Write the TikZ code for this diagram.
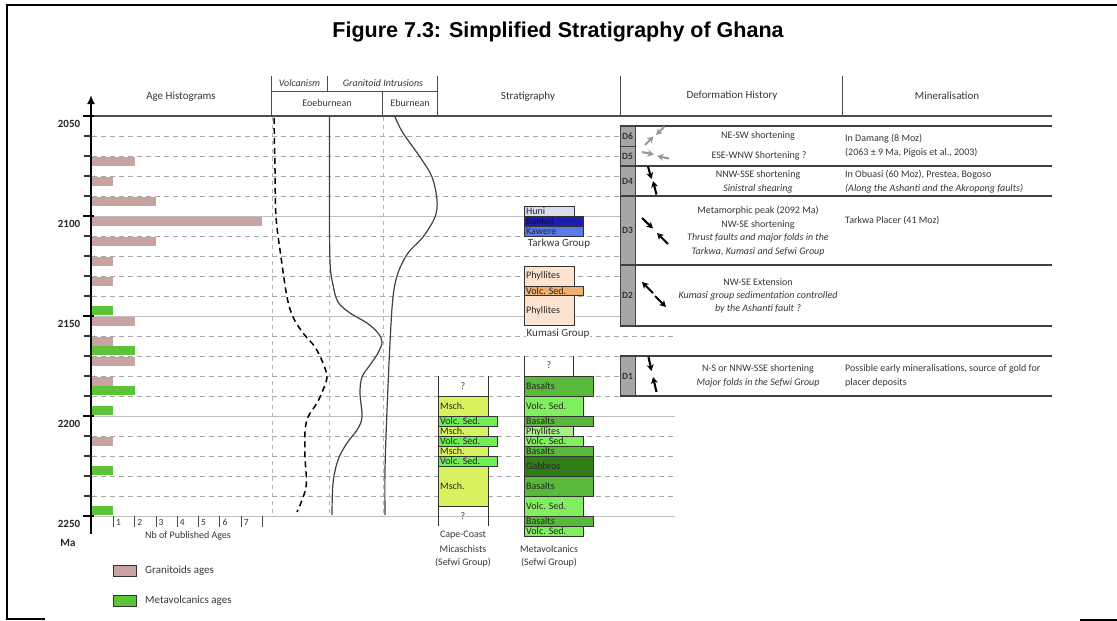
\documentclass[tikz,border=0pt]{standalone}
\usepackage{fontspec}
\setmainfont{Carlito}
\newfontfamily\arialfont{Liberation Sans}
\usetikzlibrary{arrows.meta}
\definecolor{granit}{HTML}{C9A3A1}
\definecolor{metav}{HTML}{5DC43A}
\definecolor{huni}{HTML}{DADCF0}
\definecolor{banket}{HTML}{1C1CB0}
\definecolor{kawere}{HTML}{5B7BE8}
\definecolor{kumasi}{HTML}{FCE3D0}
\definecolor{kvolc}{HTML}{EFAE72}
\definecolor{msch}{HTML}{D7F25E}
\definecolor{ccvolc}{HTML}{6EEE52}
\definecolor{basalt}{HTML}{58B93A}
\definecolor{mvvolc}{HTML}{80EE5E}
\definecolor{phyl}{HTML}{A8EE8A}
\definecolor{gabbro}{HTML}{2E7D18}
\definecolor{dcol}{HTML}{A6A6A6}
\definecolor{txtc}{HTML}{363636}
\begin{document}
\begin{tikzpicture}[x=1pt,y=-1pt,
  every node/.style={inner sep=0pt, text=txtc},
  txt/.style={font=\fontsize{10}{12}\selectfont},
  itx/.style={font=\fontsize{10}{12}\selectfont\itshape},
  hdr/.style={font=\fontsize{11}{13}\selectfont},
  grp/.style={font=\fontsize{11}{13}\selectfont, fill=white, inner sep=1pt},
  ylab/.style={font=\fontsize{11}{13}\selectfont\bfseries, text=black!85},
  dlab/.style={font=\fontsize{9.5}{11}\selectfont\bfseries, text=black!80},
  blab/.style={font=\fontsize{10}{12}\selectfont, text=black!85, anchor=west},
  mtx/.style={font=\fontsize{10}{12}\selectfont, anchor=west},
  mitx/.style={font=\fontsize{10}{12}\selectfont\itshape, anchor=west},
  hline/.style={draw=black!70, line width=1pt},
  gridd/.style={draw=black!35, dash pattern=on 5pt off 4pt, line width=0.8pt},
  grids/.style={draw=black!25, line width=0.9pt},
  vgrid/.style={draw=black!30, dash pattern=on 4pt off 4pt, line width=0.7pt},
  layer/.style={draw=black!80, line width=0.8pt},
  dline/.style={draw=black!75, line width=1.5pt},
  stress/.style={line width=2.1pt, -{Stealth[length=6.5pt,width=7pt]}},
  gstress/.style={stress, draw=black!40}]
\useasboundingbox (0,0) rectangle (1117,621);
% frame
\draw[line width=1.3pt] (1117,5) -- (7,5) -- (7,619) -- (45,619);
\draw[line width=1.3pt] (1080,620) -- (1117,620);
% title
\node[font=\arialfont\fontsize{21.5}{24}\selectfont\bfseries, text=black] (title) at (558,32) {Figure 7.3: Simplified Stratigraphy of Ghana};
% headers
\node[hdr] (hAge) at (181,97) {Age Histograms};
\node[itx] (hVolc) at (299.5,83) {Volcanism};
\node[itx] (hGran) at (383,83) {Granitoid Intrusions};
\node[txt] (hEoe) at (327,103) {Eoeburnean};
\node[txt] (hEbu) at (410,103) {Eburnean};
\node[hdr] (hStrat) at (528,97) {Stratigraphy};
\node[hdr] (hDef) at (732,96) {Deformation History};
\node[hdr] (hMin) at (947,96) {Mineralisation};
\draw[hline] (271.5,76) -- (271.5,116);
\draw[hline] (271.5,91) -- (437.5,91);
\draw[hline] (327.5,76) -- (327.5,91);
\draw[hline] (382.5,91) -- (382.5,116);
\draw[hline] (437.5,76) -- (437.5,116);
\draw[hline] (620,76) -- (620,116);
\draw[hline] (842,76) -- (842,116);
% histogram bars
\foreach \yy/\n in {156/2,176/1,196/3,216/8,236/3,256/1,276/1,316/2,336/1,356/2,376/1,436/1}
  \fill[granit] (92,\yy+0.8) rectangle ({92+21.3*\n},\yy+10);
\foreach \yy/\n in {316/1,356/2,396/2,416/1,476/1,516/1}
  \fill[metav] (92,\yy-10) rectangle ({92+21.3*\n},\yy-0.8);
% grid lines
\foreach \yy/\xe in {136/620,156/620,176/620,196/620,236/620,256/620,276/620,296/620,336/675,356/620,376/620,396/620,436/675,456/675,476/675,496/675}
  \draw[gridd] (92,\yy) -- (\xe,\yy);
\foreach \yy/\xe in {216/620,316/620,416/675,516/675}
  \draw[grids] (92,\yy) -- (\xe,\yy);
\foreach \xx in {272,329,383}
  \draw[vgrid] (\xx,117) -- (\xx,516);
\draw[draw=black!70, line width=1.8pt] (91,116) -- (1052,116);
% axis
\draw[line width=2pt, -{Latex[length=9pt,width=8pt]}] (91,534) -- (91,95);
\foreach \yy in {136,156,176,196,236,256,276,296,336,356,376,396,436,456,476,496}
  \draw[black!80, line width=1.2pt] (84,\yy) -- (91,\yy);
\foreach \yy/\lab in {116/2050,216/2100,316/2150,416/2200,516/2250}{
  \draw[black, line width=2pt] (83,\yy) -- (94,\yy);
  \node[ylab] (yl\lab) at (69,\yy+8) {\lab};
}
\node[ylab] (ma) at (68,543) {Ma};
\foreach \k in {1,...,8}
  \draw[black!70, line width=0.8pt] ({92+21.3*\k},516) -- ({92+21.3*\k},527);
\foreach \k in {1,...,7}
  \node[font=\fontsize{9.5}{11}\selectfont, anchor=west] (xl\k) at ({92+21.3*\k+2.5},522) {\k};
\node[txt] (nbpub) at (188,536) {Nb of Published Ages};
% legend
\draw[draw=black!80, line width=0.8pt, fill=granit] (113,565) rectangle (136,576);
\node[hdr, anchor=west] (legG) at (145,570.5) {Granitoids ages};
\draw[draw=black!80, line width=0.8pt, fill=metav] (113,595) rectangle (136,606);
\node[hdr, anchor=west] (legM) at (145,600.5) {Metavolcanics ages};
% curves
\draw[black, line width=1.5pt, dash pattern=on 6pt off 4pt] plot[smooth, tension=0.55] coordinates {(274,118) (275,170) (276,217) (281,257) (287,297) (293,317) (303,333) (315,347) (323,363) (327,377) (323,390) (317,403) (308,417) (305,432) (305,457) (306,487) (297,512)};
\draw[black!75, line width=1.2pt] plot[smooth, tension=0.55] coordinates {(329.5,117) (329.5,200) (330,262) (333,285) (338,302) (350,313) (367,323) (378,333) (382,342) (378,353) (370,365) (362,377) (360,393) (362,417) (357,430) (347,443) (338,460) (333,483) (332,515)};
\draw[black!75, line width=1.2pt] plot[smooth, tension=0.55] coordinates {(395,117) (403,133) (420,157) (432,177) (437,200) (435,217) (423,237) (408,253) (398,273) (393,297) (390,343) (387,410) (385,470) (385,515)};
% Tarkwa group
\draw[layer, fill=huni] (524,206) rectangle (574,216);
\draw[layer, fill=banket] (524,216) rectangle (583,226);
\draw[layer, fill=kawere] (524,226) rectangle (583,236);
\node[blab] (huni) at (526,211.5) {Huni};
\node[blab, text=banket!50!black] (banket) at (526,221.5) {Banket};
\node[blab] (kawere) at (526,231.5) {Kawere};
\node[grp] (tarkwa) at (559,244) {Tarkwa Group};
% Kumasi group
\draw[layer, fill=kumasi] (524,266) rectangle (574,325);
\draw[layer, fill=kvolc] (524,286) rectangle (583,295.5);
\node[blab] (kph1) at (526,276) {Phyllites};
\node[blab] (kvs) at (526,291) {Volc. Sed.};
\node[blab] (kph2) at (526,311) {Phyllites};
\node[grp] (kumasi) at (558,334) {Kumasi Group};
% Metavolcanics column
\draw[layer] (524,356) -- (524,376);
\draw[layer] (573,356) -- (573,376);
\node[txt] (mvq) at (549,365) {?};
\foreach \ya/\yb/\xe/\col/\lab/\nm in {376/396/593/basalt/Basalts/m1, 396/416/583/mvvolc/Volc. Sed./m2, 416/426/593/basalt/Basalts/m3, 426/436/573/phyl/Phyllites/m4, 436/446/583/mvvolc/Volc. Sed./m5, 446/456/593/basalt/Basalts/m6, 456/476/593/gabbro/Gabbros/m7, 476/496/593/basalt/Basalts/m8, 496/516/583/mvvolc/Volc. Sed./m9, 516/526/593/basalt/Basalts/m10, 526/536/583/mvvolc/Volc. Sed./m11}{
  \draw[layer, fill=\col] (524,\ya) rectangle (\xe,\yb);
  \node[blab] (\nm) at (526,{(\ya+\yb)/2+0.5}) {\lab};
}
\node[txt] (mvl1) at (549,549) {Metavolcanics};
\node[txt] (mvl2) at (549,563) {(Sefwi Group)};
% Cape-Coast column
\draw[layer] (438,376) -- (438,396);
\draw[layer] (488,376) -- (488,396);
\node[txt] (ccq1) at (463,386) {?};
\foreach \ya/\yb/\xe/\col/\lab/\nm in {396/416/488/msch/Msch./c1, 416/426/497/ccvolc/Volc. Sed./c2, 426/436/488/msch/Msch./c3, 436/446/497/ccvolc/Volc. Sed./c4, 446/456/488/msch/Msch./c5, 456/466/497/ccvolc/Volc. Sed./c6, 466/506/488/msch/Msch./c7}{
  \draw[layer, fill=\col] (438,\ya) rectangle (\xe,\yb);
  \node[blab] (\nm) at (440,{(\ya+\yb)/2+0.5}) {\lab};
}
\draw[layer] (438,506) -- (438,526);
\draw[layer] (488,506) -- (488,526);
\node[txt] (ccq2) at (463,516) {?};
\node[txt] (ccl1) at (463,535) {Cape-Coast};
\node[txt] (ccl2) at (463,549) {Micaschists};
\node[txt] (ccl3) at (463,563) {(Sefwi Group)};
% Deformation boxes
\foreach \ya/\yb/\lab in {126/146/D6,146/166/D5,166/196/D4,196/265/D3,265/326/D2,356/396/D1}{
  \draw[draw=black!75, line width=1pt, fill=dcol] (620,\ya) rectangle (635,\yb);
  \node[dlab] (lab\lab) at (627.5,{(\ya+\yb)/2}) {\lab};
}
\foreach \yy in {126,166,196,265,326,356,396}
  \draw[dline] (620,\yy) -- (1052,\yy);
% stress arrows
\draw[gstress] (645,145) -- (653.5,136.5);
\draw[gstress] (664.5,126.5) -- (656,135);
\draw[gstress] (642,152) -- (654,154.5);
\draw[gstress] (669,158.5) -- (657,156);
\draw[stress] (648,166.5) -- (651.5,179);
\draw[stress] (656.5,194.5) -- (653,181);
\draw[stress] (642,218) -- (653,228.5);
\draw[stress] (668,244) -- (657,233);
\draw[stress] (653,293) -- (642,282);
\draw[stress] (655,296) -- (666,307);
\draw[stress] (648.5,357) -- (651.5,371);
\draw[stress] (656.5,392) -- (653,377);
% deformation texts
\node[txt] (d6a) at (758,136) {NE-SW shortening};
\node[txt] (d5a) at (759,156) {ESE-WNW Shortening ?};
\node[txt] (d4a) at (758,174.5) {NNW-SSE shortening};
\node[itx] (d4b) at (758,188.5) {Sinistral shearing};
\node[txt] (d3a) at (758,211) {Metamorphic peak (2092 Ma)};
\node[txt] (d3b) at (758,224.5) {NW-SE shortening};
\node[itx] (d3c) at (758,238) {Thrust faults and major folds in the};
\node[itx] (d3d) at (758,251.5) {Tarkwa, Kumasi and Sefwi Group};
\node[txt] (d2a) at (758,282) {NW-SE Extension};
\node[itx] (d2b) at (758,295.5) {Kumasi group sedimentation controlled};
\node[itx] (d2c) at (758,309) {by the Ashanti fault ?};
\node[txt] (d1a) at (758,369) {N-S or NNW-SSE shortening};
\node[itx] (d1b) at (758,383) {Major folds in the Sefwi Group};
% mineralisation texts
\node[mtx] (m6a) at (845,139) {In Damang (8 Moz)};
\node[mtx] (m6b) at (845,153) {(2063 ± 9 Ma, Pigois et al., 2003)};
\node[mtx] (m4a) at (845,174.5) {In Obuasi (60 Moz), Prestea, Bogoso};
\node[mitx] (m4b) at (845,188.5) {(Along the Ashanti and the Akropong faults)};
\node[mtx] (m3a) at (845,221) {Tarkwa Placer (41 Moz)};
\node[mtx] (m1a) at (845,369) {Possible early mineralisations, source of gold for};
\node[mtx] (m1b) at (845,383) {placer deposits};
\end{tikzpicture}
\end{document}
